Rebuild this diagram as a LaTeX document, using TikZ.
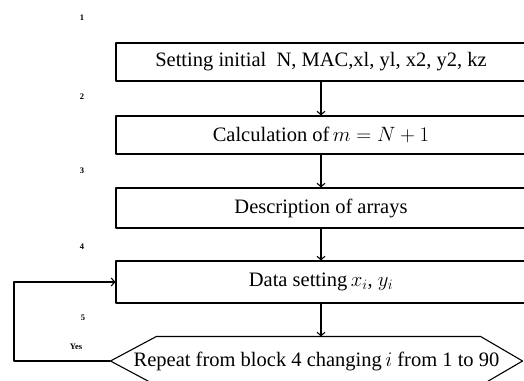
\documentclass[tikz,border=0pt]{standalone}
\usepackage{fontspec}
\setmainfont{Liberation Serif}
\usetikzlibrary{calc,arrows.meta}
\begin{document}
\begin{tikzpicture}[x=1pt, y=-1pt, >={Straight Barb[length=3.5pt,width=8pt]}, line width=1.1pt, line join=round,
	font=\fontsize{20.5}{24}\selectfont,
	block/.style={draw, minimum width=410pt, inner sep=0pt},
	num/.style={font=\fontsize{8.5}{9}\selectfont\bfseries}]
	
	\clip (0,0) rectangle (524,380);
	% blocks
	\node[block, minimum height=38pt] (init) at (321,62) {Setting initial\ \ N, MAC,xl, yl, x2, y2, kz};
	\node[block, minimum height=38pt] (calc) at (321,135) {Calculation of$\,m = N + 1$};
	\node[block, minimum height=40pt] (arr) at (321,208) {Description of arrays};
	\node[block, minimum height=42pt] (data) at (321,282) {Data setting$\,x_i$, $y_i$};
	\node[minimum width=411pt, minimum height=48pt, inner sep=0pt] (rep) at (316.5,361) {Repeat from block 4 changing$\,i$ from 1 to 90};
	\draw (rep.west) -- ($(rep.north west)+(46,0)$) -- ($(rep.north east)+(-42,0)$) -- (rep.east)
	-- ($(rep.south east)+(-42,0)$) -- ($(rep.south west)+(46,0)$) -- cycle;
	
	% block numbers
	\node[num] (n1) at (82,18) {1};
	\node[num] (n2) at (82,97) {2};
	\node[num] (n3) at (82,171) {3};
	\node[num] (n4) at (82,247) {4};
	\node[num] (n5) at (83,318) {5};
	\node[num] (yes) at (76,347) {Yes};
	
	% connectors
	\draw[->] (init) -- (calc);
	\draw[->] (calc) -- (arr);
	\draw[->] (arr) -- (data);
	\draw[->] (data) -- (data |- rep.north);
	\coordinate (back) at (14,361);
	\draw[->] (rep.west) -- (back) |- (data.west);
\end{tikzpicture}
\end{document}
